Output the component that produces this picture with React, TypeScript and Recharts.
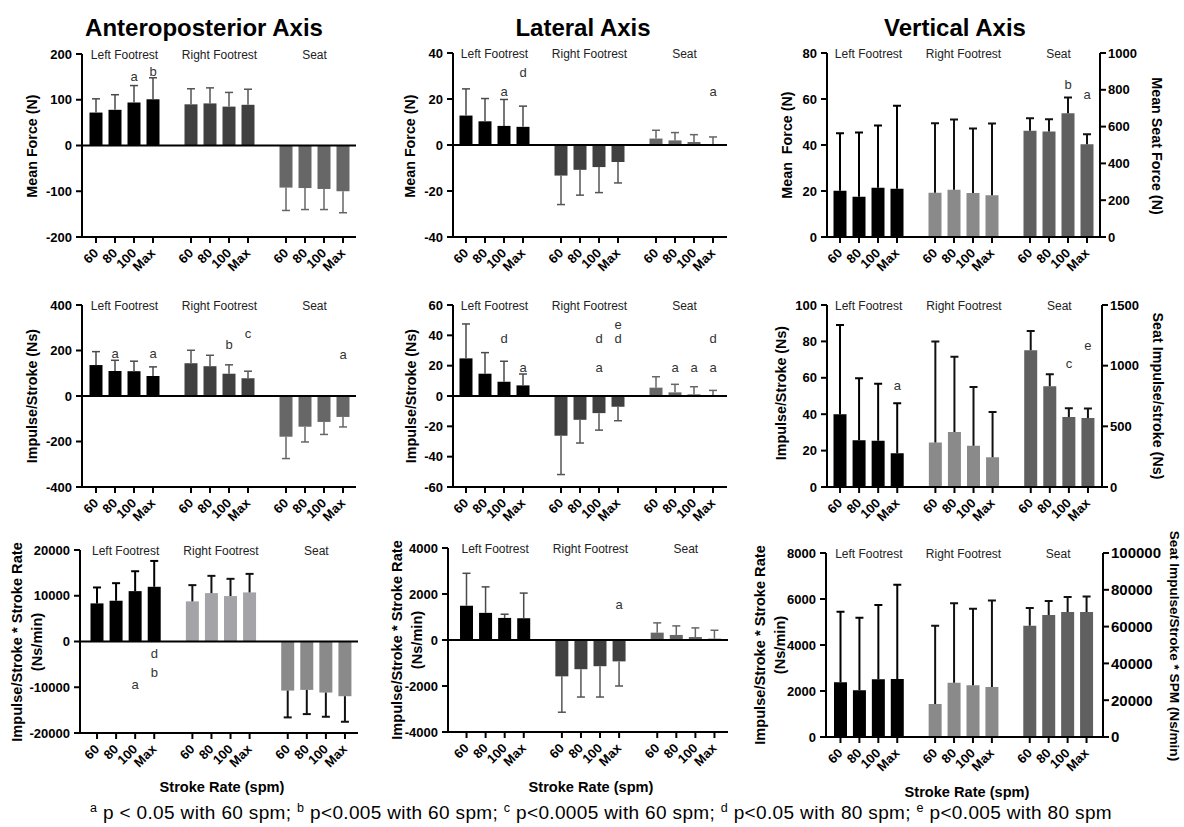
import React from "react";
import {
  BarChart,
  Bar,
  XAxis,
  YAxis,
  ReferenceLine,
  ReferenceArea,
  ReferenceDot,
} from "recharts";

const rates = ["60", "80", "100", "Max"];
const groups = ["Left Footrest", "Right Footrest", "Seat"];

// means per group (left, right, seat); error bars are +1 SD away from zero
const apForceMean = [[72, 78, 94, 101], [90, 92, 85, 89], [-92, -93, -95, -100]];
const apForceSd = [[30, 33, 37, 47], [34, 34, 31, 34], [50, 47, 45, 47]];
const latForceMean = [[12.8, 10.3, 8.3, 7.9], [-13.3, -10.8, -9.6, -7.4], [2.8, 2.0, 1.3, 0.4]];
const latForceSd = [[11.6, 9.9, 11.5, 9.0], [12.6, 11.0, 11.1, 9.1], [3.6, 3.4, 3.2, 3.1]];
const vertForceMean = [[20.1, 17.5, 21.4, 21.0], [19.2, 20.5, 19.1, 18.2], [577, 573, 673, 504]];
const vertForceSd = [[25.0, 27.9, 27.1, 36.1], [30.3, 30.6, 28.1, 31.1], [69, 67, 85, 54]];
const apImpMean = [[136, 110, 109, 88], [144, 131, 98, 78], [-179, -135, -114, -92]];
const apImpSd = [[59, 47, 44, 40], [57, 48, 39, 31], [96, 67, 55, 44]];
const latImpMean = [[24.8, 14.7, 9.4, 7.0], [-26.2, -15.7, -11.3, -7.1], [5.5, 2.4, 1.1, 0.3]];
const latImpSd = [[22.7, 13.9, 13.5, 7.5], [25.6, 15.3, 11.2, 9.2], [7.2, 5.3, 5.0, 3.4]];
const vertImpMean = [[40, 25.7, 25.4, 18.6], [24.5, 30.2, 22.7, 16.3], [1127, 831, 576, 568]];
const vertImpSd = [[49, 34, 31.3, 27.4], [55.4, 41.3, 32.2, 24.9], [159, 99, 74, 79]];
const apRateMean = [[8330, 8910, 11010, 11960], [8770, 10580, 9930, 10730], [-10730, -10580, -11160, -11960]];
const apRateSd = [[3480, 3840, 4350, 5650], [3550, 3770, 3770, 4050], [5860, 5290, 5290, 5580]];
const latRateMean = [[1490, 1180, 960, 950], [-1580, -1270, -1140, -930], [320, 220, 130, 60]];
const latRateSd = [[1410, 1130, 160, 1090], [1560, 1210, 1340, 1070], [425, 393, 396, 363]];
const vertRateMean = [[2380, 2030, 2510, 2520], [1440, 2360, 2250, 2170], [60500, 66300, 67900, 67900]];
const vertRateSd = [[3070, 3160, 3230, 4100], [3400, 3450, 3330, 3760], [9600, 7600, 8200, 8500]];

// y ticks
const apForceTicks = [-200, -100, 0, 100, 200];
const latForceTicks = [-40, -20, 0, 20, 40];
const vertForceTicks = [0, 20, 40, 60, 80];
const seatForceTicks = [0, 200, 400, 600, 800, 1000];
const apImpTicks = [-400, -200, 0, 200, 400];
const latImpTicks = [-60, -40, -20, 0, 20, 40, 60];
const vertImpTicks = [0, 20, 40, 60, 80, 100];
const seatImpTicks = [0, 500, 1000, 1500];
const apRateTicks = [-20000, -10000, 0, 10000, 20000];
const latRateTicks = [-4000, -2000, 0, 2000, 4000];
const vertRateTicks = [0, 2000, 4000, 6000, 8000];
const seatRateTicks = [0, 20000, 40000, 60000, 80000, 100000];

// significance letters: [group, rate, y value, letter]
type Sig = [number, number, number, string];
const apForceSig: Sig[] = [[0, 2, 152, "a"], [0, 3, 163, "b"]];
const latForceSig: Sig[] = [[0, 2, 23.4, "a"], [0, 3, 31.4, "d"], [2, 3, 23.4, "a"]];
const vertForceSig: Sig[] = [[2, 2, 827, "b"], [2, 3, 777, "a"]];
const apImpSig: Sig[] = [[0, 1, 186, "a"], [0, 3, 186, "a"], [1, 2, 228, "b"], [1, 3, 274, "c"], [2, 3, 183, "a"]];
const latImpSig: Sig[] = [
  [0, 2, 38, "d"], [0, 3, 19, "a"], [1, 2, 38, "d"], [1, 2, 19, "a"], [1, 3, 47.5, "e"],
  [1, 3, 38, "d"], [2, 1, 19, "a"], [2, 2, 19, "a"], [2, 3, 38, "d"], [2, 3, 19, "a"],
];
const vertImpSig: Sig[] = [[0, 3, 55.7, "a"], [2, 2, 1015, "c"], [2, 3, 1165, "e"]];
const apRateSig: Sig[] = [[0, 3, -2680, "d"], [0, 3, -6670, "b"], [0, 2, -9350, "a"]];
const latRateSig: Sig[] = [[1, 3, 1530, "a"]];
const vertRateSig: Sig[] = [];

const darkPal = { bar: ["#000000", "#404040", "#676767"], err: ["#4a4a4a", "#555555", "#666666"], w: 1.5 };
const vertPal = { bar: ["#000000", "#8a8a8a", "#606060"], err: ["#000000", "#111111", "#111111"], w: 2 };
const ratePal = { bar: ["#000000", "#a3a3a8", "#8a8a8a"], err: ["#000000", "#111111", "#111111"], w: 2 };

type Pal = typeof darkPal;
interface PanelSpec {
  mean: number[][];
  sd: number[][];
  ticks: number[];
  rTicks?: number[];
  rTickSize?: number;
  sig: Sig[];
  pal: Pal;
  box: [number, number, number, number];
  pad: [number, number];
}

const panels: PanelSpec[] = [
  { mean: apForceMean, sd: apForceSd, ticks: apForceTicks, sig: apForceSig, pal: darkPal, box: [82, 54, 356, 237], pad: [4.5, 3.5] },
  { mean: latForceMean, sd: latForceSd, ticks: latForceTicks, sig: latForceSig, pal: darkPal, box: [453, 53, 727, 237], pad: [3.5, 4.5] },
  { mean: vertForceMean, sd: vertForceSd, ticks: vertForceTicks, rTicks: seatForceTicks, sig: vertForceSig, pal: vertPal, box: [827, 53, 1100, 237], pad: [3.5, 3.5] },
  { mean: apImpMean, sd: apImpSd, ticks: apImpTicks, sig: apImpSig, pal: darkPal, box: [82, 305, 356, 487], pad: [4.5, 3.5] },
  { mean: latImpMean, sd: latImpSd, ticks: latImpTicks, sig: latImpSig, pal: darkPal, box: [453, 305, 727, 487], pad: [3.5, 4.5] },
  { mean: vertImpMean, sd: vertImpSd, ticks: vertImpTicks, rTicks: seatImpTicks, sig: vertImpSig, pal: vertPal, box: [827, 305, 1102, 487], pad: [3.5, 4.5] },
  { mean: apRateMean, sd: apRateSd, ticks: apRateTicks, sig: apRateSig, pal: ratePal, box: [80, 550, 358, 733], pad: [7.5, 3.5] },
  { mean: latRateMean, sd: latRateSd, ticks: latRateTicks, sig: latRateSig, pal: darkPal, box: [448, 548, 728, 732], pad: [9, 4] },
  { mean: vertRateMean, sd: vertRateSd, ticks: vertRateTicks, rTicks: seatRateTicks, rTickSize: 15, sig: vertRateSig, pal: vertPal, box: [826, 553, 1103, 737], pad: [5, 7] },
];

const axisTitles = [
  { lines: ["Mean Force (N)"], x: 32, y: 146, rot: -90 },
  { lines: ["Mean Force (N)"], x: 410, y: 146, rot: -90 },
  { lines: ["Mean  Force (N)"], x: 787, y: 145, rot: -90 },
  { lines: ["Mean Seat Force (N)"], x: 1157, y: 146, rot: 90 },
  { lines: ["Impulse/Stroke (Ns)"], x: 32, y: 396, rot: -90 },
  { lines: ["Impulse/Stroke (Ns)"], x: 411, y: 396, rot: -90 },
  { lines: ["Impulse/Stroke (Ns)"], x: 781, y: 393, rot: -90 },
  { lines: ["Seat Impulse/stroke (Ns)"], x: 1158, y: 396, rot: 90 },
  { lines: ["Impulse/Stroke * Stroke Rate", "(Ns/min)"], x: 27, y: 642, rot: -90 },
  { lines: ["Impulse/Stroke * Stroke Rate", "(Ns/min)"], x: 407, y: 640, rot: -90 },
  { lines: ["Impulse/Stroke * Stroke Rate", "(Ns/min)"], x: 770, y: 645, rot: -90 },
  { lines: ["Seat Impulse/Stroke * SPM (Ns/min)"], x: 1174, y: 646, rot: 90, size: 13.6, lh: 15 },
];

const panelTitles = [
  { text: "Anteroposterior Axis", x: 204 },
  { text: "Lateral Axis", x: 583 },
  { text: "Vertical Axis", x: 955 },
];

const xTitles = [
  { x: 222, y: 787 },
  { x: 591, y: 787 },
  { x: 967, y: 792 },
];

const footnotes = [
  ["a", "p < 0.05 with 60 spm; "],
  ["b", "p<0.005 with 60 spm; "],
  ["c", "p<0.0005 with 60 spm; "],
  ["d", "p<0.05 with 80 spm; "],
  ["e", "p<0.005 with 80 spm"],
];

const xIds = [0, "x1", "x2"] as const;
const axisStroke = { stroke: "#000", strokeWidth: 2 };

function buildRows(mean: number[][], sd: number[][]) {
  const rows: any[] = [];
  groups.forEach((g, gi) => {
    if (gi > 0) rows.push({ id: `gap${gi}` });
    rates.forEach((r, ri) => {
      const m = mean[gi][ri];
      rows.push({
        id: `${g}|${r}`,
        [`m${gi}`]: m,
        [`e${gi}`]: m < 0 ? -sd[gi][ri] : sd[gi][ri],
      });
    });
  });
  return rows;
}

const RateTick = (props: any) => {
  const { x, y, payload } = props;
  const id: string = String(payload?.value ?? "");
  if (!id.includes("|")) return <g />;
  const label = id.split("|")[1];
  return (
    <g>
      <line x1={x} x2={x} y1={y - 6} y2={y} stroke="#000" strokeWidth={2} />
      <text
        transform={`translate(${x + 3},${y + 11}) rotate(-45)`}
        textAnchor="end"
        fontSize={13}
        fontWeight={700}
        fill="#000"
      >
        {label}
      </text>
    </g>
  );
};

// whisker drawn on the stacked SD segment, capped at its far end
const errShape = (color: string, key: string, w: number) => (props: any) => {
  const { x, y, width, height, payload } = props;
  if (!payload || payload[key] == null || !height) return <g />;
  const cx = x + width / 2;
  const y2 = y + height;
  const capY = payload[key] >= 0 ? Math.min(y, y2) : Math.max(y, y2);
  return (
    <g stroke={color} strokeWidth={w}>
      <line x1={cx} x2={cx} y1={y} y2={y2} />
      <line x1={cx - 4} x2={cx + 4} y1={capY} y2={capY} />
    </g>
  );
};

function Panel({ spec }: { spec: PanelSpec }) {
  const [pl, pt, pr, pb] = spec.box;
  const dual = !!spec.rTicks;
  const yw = 58;
  const mt = 14;
  const xh = 42;
  const rw = dual ? 70 : 14;
  const x0 = pl - yw;
  const y0 = pt - mt;
  const width = pr - x0 + rw;
  const height = pb - y0 + xh;
  const rows = buildRows(spec.mean, spec.sd);
  const t = spec.ticks;
  const pad = { left: spec.pad[0], right: spec.pad[1] };
  const seatAxis = dual ? "r" : 0;

  const bars: React.ReactNode[] = [];
  groups.forEach((g, gi) => {
    const yid = gi === 2 ? seatAxis : 0;
    bars.push(
      <Bar
        key={`m${gi}`}
        dataKey={`m${gi}`}
        xAxisId={xIds[gi]}
        yAxisId={yid}
        stackId={`s${gi}`}
        fill={spec.pal.bar[gi]}
        barSize={13}
        isAnimationActive={false}
      />,
      <Bar
        key={`e${gi}`}
        dataKey={`e${gi}`}
        xAxisId={xIds[gi]}
        yAxisId={yid}
        stackId={`s${gi}`}
        fill="none"
        barSize={13}
        shape={errShape(spec.pal.err[gi], `e${gi}`, spec.pal.w)}
        isAnimationActive={false}
      />
    );
  });

  return (
    <div style={{ position: "absolute", left: x0, top: y0 }}>
      <BarChart
        width={width}
        height={height}
        data={rows}
        margin={{ top: mt, right: dual ? 0 : rw, bottom: 0, left: 0 }}
      >
        <XAxis
          dataKey="id"
          interval={0}
          height={xh}
          padding={pad}
          tickLine={false}
          tickSize={6}
          tickMargin={0}
          tick={RateTick}
          axisLine={axisStroke}
        />
        <XAxis xAxisId="x1" dataKey="id" hide padding={pad} />
        <XAxis xAxisId="x2" dataKey="id" hide padding={pad} />
        <YAxis
          width={yw}
          domain={[t[0], t[t.length - 1]]}
          ticks={t}
          interval={0}
          allowDataOverflow
          tickSize={6}
          tickMargin={4}
          tick={{ fill: "#000", fontSize: 13, fontWeight: 700 }}
          axisLine={axisStroke}
          tickLine={axisStroke}
        />
        {dual && (
          <YAxis
            yAxisId="r"
            orientation="right"
            width={rw}
            domain={[spec.rTicks![0], spec.rTicks![spec.rTicks!.length - 1]]}
            ticks={spec.rTicks}
            interval={0}
            allowDataOverflow
            tickSize={6}
            tickMargin={2}
            tick={{ fill: "#000", fontSize: spec.rTickSize ?? 13, fontWeight: 700 }}
            axisLine={axisStroke}
            tickLine={axisStroke}
          />
        )}
        {bars}
        {t[0] < 0 && <ReferenceLine y={0} stroke="#000" strokeWidth={2} />}
        {groups.map((g) => (
          <ReferenceArea
            key={g}
            x1={`${g}|60`}
            x2={`${g}|Max`}
            fill="none"
            fillOpacity={0}
            stroke="none"
            ifOverflow="visible"
            label={{ value: g, position: "insideTop", offset: -4, fontSize: 12, fill: "#222" }}
          />
        ))}
        {spec.sig.map(([gi, ri, yv, letter], i) => (
          <ReferenceDot
            key={i}
            x={`${groups[gi]}|${rates[ri]}`}
            y={yv}
            yAxisId={gi === 2 ? seatAxis : 0}
            r={0}
            fill="none"
            stroke="none"
            ifOverflow="visible"
            label={{ value: letter, position: "center", fontSize: 13, fill: "#333" }}
          />
        ))}
      </BarChart>
    </div>
  );
}

export default function App() {
  return (
    <div
      style={{
        position: "absolute",
        left: 0,
        top: 0,
        width: 1184,
        height: 827,
        background: "#fff",
        color: "#000",
        overflow: "hidden",
        fontFamily: "'Liberation Sans', Arial, sans-serif",
      }}
    >
      {panelTitles.map((p) => (
        <div
          key={p.text}
          style={{
            position: "absolute",
            left: p.x,
            top: 16,
            transform: "translateX(-50%)",
            fontSize: 24,
            lineHeight: "24px",
            fontWeight: 700,
            whiteSpace: "nowrap",
          }}
        >
          {p.text}
        </div>
      ))}
      {panels.map((p, i) => (
        <Panel key={i} spec={p} />
      ))}
      {axisTitles.map((a, i) => (
        <div
          key={i}
          style={{
            position: "absolute",
            left: a.x,
            top: a.y,
            transform: `translate(-50%, -50%) rotate(${a.rot}deg)`,
            fontSize: a.size ?? (a.lines.length > 1 ? 14.6 : 14.3),
            lineHeight: `${a.lh ?? 20}px`,
            fontWeight: 700,
            whiteSpace: "pre",
            textAlign: "center",
          }}
        >
          {a.lines.map((l) => (
            <div key={l}>{l}</div>
          ))}
        </div>
      ))}
      {xTitles.map((x, i) => (
        <div
          key={i}
          style={{
            position: "absolute",
            left: x.x,
            top: x.y,
            transform: "translate(-50%, -50%)",
            fontSize: 14.6,
            lineHeight: "18px",
            fontWeight: 700,
            whiteSpace: "nowrap",
          }}
        >
          Stroke Rate (spm)
        </div>
      ))}
      <div
        style={{
          position: "absolute",
          left: 9,
          top: 802,
          width: 1184,
          textAlign: "center",
          fontSize: 19,
          letterSpacing: 0.35,
          lineHeight: "22px",
          whiteSpace: "nowrap",
        }}
      >
        {footnotes.map(([s, txt]) => (
          <span key={s}>
            <span style={{ fontSize: 12.5, position: "relative", top: -7 }}>{s}</span> {txt}
          </span>
        ))}
      </div>
    </div>
  );
}
